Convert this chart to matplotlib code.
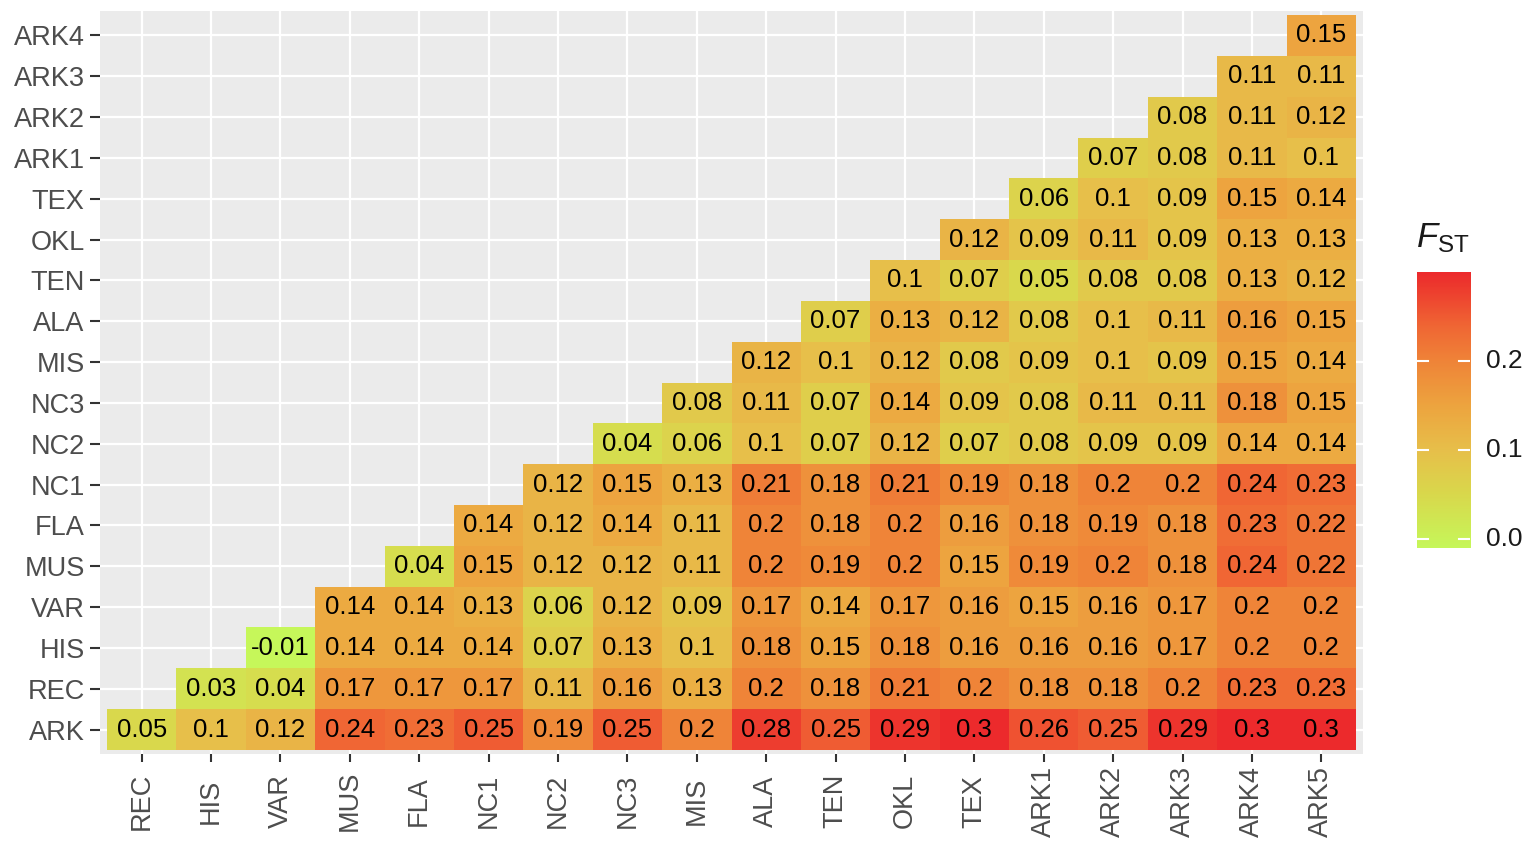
import numpy as np
import matplotlib
matplotlib.use("Agg")
import matplotlib.pyplot as plt
from matplotlib.colors import LinearSegmentedColormap, Normalize

plt.rcParams['font.family'] = ['Liberation Sans', 'DejaVu Sans']
plt.rcParams['mathtext.fontset'] = 'custom'
plt.rcParams['mathtext.rm'] = 'Liberation Sans'
plt.rcParams['mathtext.it'] = 'Liberation Sans:italic'

# Columns (x) and rows (y, bottom -> top)
x_labels = ["REC", "HIS", "VAR", "MUS", "FLA", "NC1", "NC2", "NC3", "MIS",
            "ALA", "TEN", "OKL", "TEX", "ARK1", "ARK2", "ARK3", "ARK4", "ARK5"]
y_labels = ["ARK", "REC", "HIS", "VAR", "MUS", "FLA", "NC1", "NC2", "NC3",
            "MIS", "ALA", "TEN", "OKL", "TEX", "ARK1", "ARK2", "ARK3", "ARK4"]

# Each row's values start at the column with the same index as the row
row_ARK = [0.05, 0.1, 0.12, 0.24, 0.23, 0.25, 0.19, 0.25, 0.2, 0.28, 0.25, 0.29, 0.3, 0.26, 0.25, 0.29, 0.3, 0.3]
row_REC = [0.03, 0.04, 0.17, 0.17, 0.17, 0.11, 0.16, 0.13, 0.2, 0.18, 0.21, 0.2, 0.18, 0.18, 0.2, 0.23, 0.23]
row_HIS = [-0.01, 0.14, 0.14, 0.14, 0.07, 0.13, 0.1, 0.18, 0.15, 0.18, 0.16, 0.16, 0.16, 0.17, 0.2, 0.2]
row_VAR = [0.14, 0.14, 0.13, 0.06, 0.12, 0.09, 0.17, 0.14, 0.17, 0.16, 0.15, 0.16, 0.17, 0.2, 0.2]
row_MUS = [0.04, 0.15, 0.12, 0.12, 0.11, 0.2, 0.19, 0.2, 0.15, 0.19, 0.2, 0.18, 0.24, 0.22]
row_FLA = [0.14, 0.12, 0.14, 0.11, 0.2, 0.18, 0.2, 0.16, 0.18, 0.19, 0.18, 0.23, 0.22]
row_NC1 = [0.12, 0.15, 0.13, 0.21, 0.18, 0.21, 0.19, 0.18, 0.2, 0.2, 0.24, 0.23]
row_NC2 = [0.04, 0.06, 0.1, 0.07, 0.12, 0.07, 0.08, 0.09, 0.09, 0.14, 0.14]
row_NC3 = [0.08, 0.11, 0.07, 0.14, 0.09, 0.08, 0.11, 0.11, 0.18, 0.15]
row_MIS = [0.12, 0.1, 0.12, 0.08, 0.09, 0.1, 0.09, 0.15, 0.14]
row_ALA = [0.07, 0.13, 0.12, 0.08, 0.1, 0.11, 0.16, 0.15]
row_TEN = [0.1, 0.07, 0.05, 0.08, 0.08, 0.13, 0.12]
row_OKL = [0.12, 0.09, 0.11, 0.09, 0.13, 0.13]
row_TEX = [0.06, 0.1, 0.09, 0.15, 0.14]
row_ARK1 = [0.07, 0.08, 0.11, 0.1]
row_ARK2 = [0.08, 0.11, 0.12]
row_ARK3 = [0.11, 0.11]
row_ARK4 = [0.15]

rows = [row_ARK, row_REC, row_HIS, row_VAR, row_MUS, row_FLA, row_NC1, row_NC2,
        row_NC3, row_MIS, row_ALA, row_TEN, row_OKL, row_TEX, row_ARK1, row_ARK2,
        row_ARK3, row_ARK4]

cbar_ticks = [0.0, 0.1, 0.2]

all_vals = [v for r in rows for v in r]
vmin, vmax = min(all_vals), max(all_vals)

anchors = [(-0.01, "#C6F75A"), (0.05, "#D9D84C"), (0.10, "#E7BF4A"),
           (0.15, "#EDA43F"), (0.20, "#EF8438"), (0.24, "#F06634"), (0.30, "#EC2A2C")]
cmap = LinearSegmentedColormap.from_list(
    "fst", [((a - vmin) / (vmax - vmin), c) for a, c in anchors])
norm = Normalize(vmin=vmin, vmax=vmax)

W, H = 1535, 852
fig = plt.figure(figsize=(W / 100, H / 100), dpi=100)
fig.patch.set_facecolor("white")

pl, pr, pt, pb = 100, 1363, 11, 754
ax = fig.add_axes([pl / W, 1 - pb / H, (pr - pl) / W, (pb - pt) / H])
ax.set_facecolor("#EBEBEB")
nx, ny = len(x_labels), len(y_labels)
ax.set_xlim(-0.6, nx - 1 + 0.6)
ax.set_ylim(-0.6, ny - 1 + 0.6)
for i in range(nx):
    ax.axvline(i, color="white", lw=1.6, zorder=0)
for j in range(ny):
    ax.axhline(j, color="white", lw=1.6, zorder=0)

for j, r in enumerate(rows):
    for k, v in enumerate(r):
        i = j + k
        ax.add_patch(plt.Rectangle((i - 0.5, j - 0.5), 1, 1, facecolor=cmap(norm(v)),
                                   edgecolor="none", zorder=2))
        ax.text(i, j, f"{v:g}", ha="center", va="center", fontsize=18.5,
                color="black", zorder=3)

for s in ax.spines.values():
    s.set_visible(False)

ax.set_xticks(range(nx))
ax.set_xticklabels(x_labels, rotation=90, fontsize=19.5, color="#4D4D4D")
for lab in ax.get_xticklabels():
    lab.set_va("center")
ax.tick_params(axis="x", length=6, width=1.5, color="#333333", pad=28)
ax.set_yticks(range(ny))
ax.set_yticklabels(y_labels, fontsize=19.5, color="#4D4D4D")
ax.tick_params(axis="y", length=7, width=1.5, color="#333333", pad=4)

# Colorbar
cl, cr, ct, cb = 1417, 1470, 272, 548
cax = fig.add_axes([cl / W, 1 - cb / H, (cr - cl) / W, (cb - ct) / H])
grad = np.linspace(vmin, vmax, 300).reshape(-1, 1)
cax.imshow(grad, aspect="auto", cmap=cmap, norm=norm, origin="lower",
           extent=[0, 1, vmin, vmax])
cax.set_xlim(0, 1)
cax.set_ylim(vmin, vmax)
cax.set_xticks([])
cax.set_yticks([])
for s in cax.spines.values():
    s.set_visible(False)
for t in cbar_ticks:
    cax.plot([0, 0.2], [t, t], color="white", lw=1.5)
    cax.plot([0.8, 1], [t, t], color="white", lw=1.5)
    cax.text(1.3, t, f"{t:.1f}", transform=cax.transData, ha="left", va="center",
             fontsize=19, color="#1A1A1A")
fig.text(1416 / W, 1 - 238 / H, r"$F_{\mathrm{ST}}$", fontsize=25, ha="left",
         va="center", color="#1A1A1A")

fig.savefig("out.png", dpi=100)
